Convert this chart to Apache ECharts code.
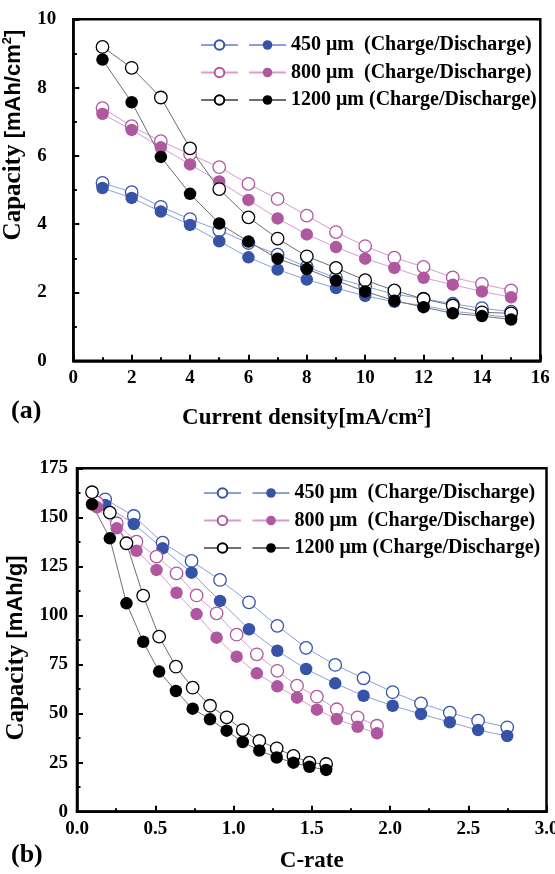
<!DOCTYPE html>
<html>
<head>
<meta charset="utf-8">
<script src="https://cdn.jsdelivr.net/npm/echarts@6/dist/echarts.min.js"></script>
<style>html,body{margin:0;padding:0;background:#fff;}#c{width:555px;height:874px;}</style>
</head>
<body>
<div id="c"></div>
<script>
// ---- Panel (a) data ----
const densityA = [1,2,3,4,5,6,7,8,9,10,11,12,13,14,15];
const cap450ChargeA    = [5.21,4.94,4.51,4.15,3.82,3.45,3.11,2.75,2.43,2.18,1.95,1.82,1.67,1.54,1.44];
const cap450DischargeA = [5.06,4.77,4.37,3.98,3.50,3.03,2.67,2.38,2.13,1.90,1.73,1.62,1.45,1.36,1.27];
const cap800ChargeA    = [7.40,6.87,6.43,6.05,5.67,5.18,4.74,4.25,3.77,3.36,3.02,2.75,2.44,2.25,2.06];
const cap800DischargeA = [7.23,6.76,6.25,5.75,5.25,4.71,4.17,3.70,3.33,2.99,2.72,2.43,2.23,2.03,1.86];
const cap1200ChargeA   = [9.19,8.58,7.71,6.22,5.03,4.20,3.58,3.06,2.72,2.36,2.06,1.81,1.62,1.42,1.39];
const cap1200DischargeA= [8.82,7.57,5.97,4.89,4.02,3.49,2.99,2.69,2.35,2.03,1.76,1.57,1.39,1.31,1.21];

// ---- Panel (b) data ----
const cRate450  = [0.18,0.363,0.547,0.732,0.914,1.099,1.28,1.464,1.65,1.831,2.017,2.198,2.382,2.563,2.749];
const cap450ChargeB    = [159.2,150.7,137.1,127.8,118.1,106.7,94.7,83.5,74.8,68.0,60.9,55.2,50.5,46.4,43.0];
const cap450DischargeB = [156.3,146.6,134.2,121.8,107.4,93.0,82.0,72.7,65.4,59.1,54.0,49.8,45.6,41.6,38.6];
const cRate800  = [0.128,0.254,0.38,0.508,0.636,0.764,0.892,1.02,1.149,1.28,1.406,1.533,1.66,1.793,1.917];
const cap800ChargeB    = [157.5,147.0,137.6,130.0,121.5,110.2,101.1,90.2,80.2,71.8,64.2,58.6,52.2,48.1,43.8];
const cap800DischargeB = [155.1,144.4,133.0,123.2,111.6,100.7,88.7,79.0,70.5,63.9,58.1,52.0,47.2,43.3,40.0];
const cRate1200 = [0.096,0.21,0.316,0.423,0.525,0.632,0.739,0.85,0.956,1.059,1.165,1.276,1.383,1.485,1.592];
const cap1200ChargeB   = [162.8,152.4,136.8,110.1,89.2,73.9,63.2,54.0,48.1,41.6,36.1,32.3,28.4,25.0,24.3];
const cap1200DischargeB= [156.7,139.3,106.2,86.6,71.4,61.5,52.5,47.1,41.3,35.5,31.2,27.6,25.0,22.9,21.3];

// ---- Labels ----
const thicknessNames = ['450 μm  (Charge/Discharge)', '800 μm  (Charge/Discharge)', '1200 μm (Charge/Discharge)'];
const ticksA_x = [0,16,2];
const ticksA_y = [0,10,2];
const ticksB_x = [0,3,0.5];
const ticksB_y = [0,175,25];

const SERIF = '"Liberation Serif","Times New Roman",serif';
const SANS = '"Liberation Sans",Arial,sans-serif';
const palette = {
  '450':  {mark:'#3653a8', line:'#8c9fdc'},
  '800':  {mark:'#b0589f', line:'#d99bd2'},
  '1200': {mark:'#000000', line:'#6e6e6e'}
};

function pairs(xs, ys){ return xs.map((x,i)=>[x, ys[i]]); }

function mkSeries(name, key, open, xi, data){
  const c = palette[key];
  return {
    name, type:'line', xAxisIndex:xi, yAxisIndex:xi, data,
    symbol:'circle', symbolSize:12.5,
    lineStyle:{color:c.line, width:1},
    itemStyle: open ? {color:'#ffffff', borderColor:c.mark, borderWidth:1.3}
                    : {color:c.mark, borderColor:c.mark, borderWidth:0},
    emphasis:{disabled:true}, animation:false
  };
}

const keys = ['450','800','1200'];
const series = [];
const dataA = {
  '450':[cap450ChargeA,cap450DischargeA],'800':[cap800ChargeA,cap800DischargeA],'1200':[cap1200ChargeA,cap1200DischargeA]};
const dataB = {
  '450':[cRate450,cap450ChargeB,cap450DischargeB],'800':[cRate800,cap800ChargeB,cap800DischargeB],'1200':[cRate1200,cap1200ChargeB,cap1200DischargeB]};
keys.forEach(k=>{
  series.push(mkSeries('a'+k+'c', k, true, 0, pairs(densityA, dataA[k][0])));
  series.push(mkSeries('a'+k+'d', k, false, 0, pairs(densityA, dataA[k][1])));
});
keys.forEach(k=>{
  series.push(mkSeries('b'+k+'c', k, true, 1, pairs(dataB[k][0], dataB[k][1])));
  series.push(mkSeries('b'+k+'d', k, false, 1, pairs(dataB[k][0], dataB[k][2])));
});

function mkLegend(names, left, top, withText){
  return {
    data:names, orient:'vertical', left, top, itemWidth:37, itemHeight:12, itemGap:7.5,
    selectedMode:false, padding:0,
    textStyle:{fontFamily:SERIF, fontWeight:'bold', fontSize:20, color:'#000', lineHeight:20},
    formatter: withText ? (n => thicknessNames[keys.indexOf(n.slice(1,-1))]) : (()=>' '),
    itemTextGap:6
  };
}

function axisCommon(){
  return {
    axisLine:{show:true, onZero:false, lineStyle:{color:'#000', width:2.5}},
    axisTick:{show:true, inside:true, length:6, lineStyle:{color:'#000', width:2}},
    minorTick:{show:true, splitNumber:2, length:3.5, lineStyle:{color:'#000', width:2}},
    splitLine:{show:false},
    axisLabel:{fontFamily:SERIF, fontWeight:'bold', fontSize:19, color:'#000'}
  };
}

const option = {
  backgroundColor:'#fff',
  animation:false,
  grid:[
    {left:73.3, top:19.3, width:467, height:341.5, show:true, borderColor:'#000', borderWidth:2.5,
     containLabel:false, outerBoundsMode:'none'},
    {left:77, top:468.3, width:469.5, height:343.4, show:true, borderColor:'#000', borderWidth:2.5,
     containLabel:false, outerBoundsMode:'none'}
  ],
  xAxis:[
    Object.assign(axisCommon(), {type:'value', gridIndex:0, min:ticksA_x[0], max:ticksA_x[1], interval:ticksA_x[2],
      name:'{a|Current density[mA/cm}{s|2}{a|]}', nameLocation:'middle', nameGap:46,
      nameTextStyle:{rich:{a:{fontFamily:SERIF,fontWeight:'bold',fontSize:23,color:'#000'},
                          s:{fontFamily:SERIF,fontWeight:'bold',fontSize:13,color:'#000',verticalAlign:'top'}}}}),
    Object.assign(axisCommon(), {type:'value', gridIndex:1, min:ticksB_x[0], max:ticksB_x[1], interval:ticksB_x[2],
      name:'C-rate', nameLocation:'middle', nameGap:38,
      nameTextStyle:{fontFamily:SERIF,fontWeight:'bold',fontSize:23,color:'#000'}})
  ],
  yAxis:[
    Object.assign(axisCommon(), {type:'value', gridIndex:0, min:ticksA_y[0], max:ticksA_y[1], interval:ticksA_y[2],
      name:'{a|Capacity }{b|[mAh/cm}{s|2}{b|]}', nameLocation:'middle', nameGap:38,
      nameTextStyle:{padding:[0,0,0,110],
                     rich:{a:{fontFamily:SERIF,fontWeight:'bold',fontSize:25,color:'#000'},
                          b:{fontFamily:SANS,fontWeight:'bold',fontSize:22,color:'#000'},
                          s:{fontFamily:SANS,fontWeight:'bold',fontSize:13,color:'#000',verticalAlign:'top'}}}}),
    Object.assign(axisCommon(), {type:'value', gridIndex:1, min:ticksB_y[0], max:ticksB_y[1], interval:ticksB_y[2],
      name:'{a|Capacity }{b|[mAh/g]}', nameLocation:'middle', nameGap:44,
      nameTextStyle:{padding:[0,16,0,0],
                     rich:{a:{fontFamily:SERIF,fontWeight:'bold',fontSize:25,color:'#000'},
                          b:{fontFamily:SANS,fontWeight:'bold',fontSize:22,color:'#000'}}}})
  ],
  legend:[
    mkLegend(keys.map(k=>'a'+k+'c'), 200, 35, false),
    mkLegend(keys.map(k=>'a'+k+'d'), 248, 35, true),
    mkLegend(keys.map(k=>'b'+k+'c'), 203, 483, false),
    mkLegend(keys.map(k=>'b'+k+'d'), 251.5, 483, true)
  ],
  graphic:[
    {type:'text', left:11, top:398, style:{text:'(a)', font:'bold 26px '+SERIF, fill:'#000'}},
    {type:'text', left:11, top:842, style:{text:'(b)', font:'bold 26px '+SERIF, fill:'#000'}}
  ],
  series
};
option.yAxis[0].axisLabel = Object.assign({}, option.yAxis[0].axisLabel, {align:'left', margin:36});
option.yAxis[1].axisLabel = Object.assign({}, option.yAxis[1].axisLabel, {margin:9});
option.xAxis[1].axisLabel = Object.assign({}, option.xAxis[1].axisLabel, {formatter: v => v.toFixed(1)});

const chart = echarts.init(document.getElementById('c'), null, {renderer:'canvas'});
chart.setOption(option);
</script>
</body>
</html>
